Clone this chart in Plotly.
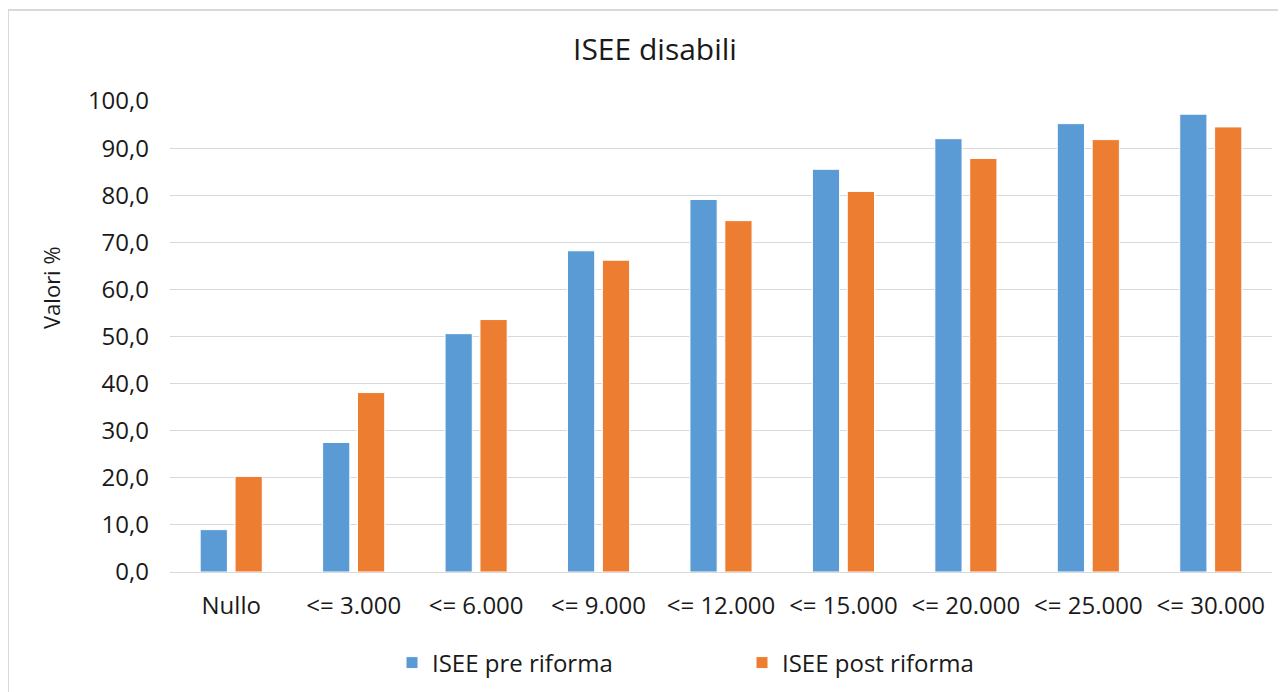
import plotly.graph_objects as go

categories = ["Nullo", "<= 3.000", "<= 6.000", "<= 9.000", "<= 12.000",
              "<= 15.000", "<= 20.000", "<= 25.000", "<= 30.000"]
pre_riforma = [9.0, 27.5, 50.6, 68.2, 79.1, 85.5, 92.0, 95.2, 97.2]
post_riforma = [20.3, 38.1, 53.6, 66.2, 74.6, 80.8, 87.8, 91.8, 94.5]
y_ticks = [0, 10, 20, 30, 40, 50, 60, 70, 80, 90, 100]
y_tick_labels = ["0,0", "10,0", "20,0", "30,0", "40,0", "50,0",
                 "60,0", "70,0", "80,0", "90,0", "100,0"]

# page offset (browser body margin) compensation
OFF = 8
W, H = 1286 - OFF, 692 - OFF
L, R, T = 170 - OFF, 1286 - 1272, 101 - OFF
B = H - (572 - OFF)
pw, ph = W - L - R, H - T - B

def px(x):
    return (x - OFF - L) / pw

def py(y):
    return (H - B - (y - OFF)) / ph

def cx(x):
    return (x - OFF) / W

def cy(y):
    return 1 - (y - OFF) / H

FONT = "Open Sans"
TXT = "#1a1a1a"

fig = go.Figure()
fig.add_trace(go.Bar(x=categories, y=pre_riforma, name="ISEE pre riforma",
                     marker=dict(color="#5B9BD5", line=dict(color="#FFFFFF", width=1))))
fig.add_trace(go.Bar(x=categories, y=post_riforma, name="ISEE post riforma",
                     marker=dict(color="#ED7D31", line=dict(color="#FFFFFF", width=1))))

fig.update_layout(
    width=W, height=H,
    margin=dict(l=L, r=R, t=T, b=B, autoexpand=False),
    paper_bgcolor="white", plot_bgcolor="white",
    font=dict(family=FONT, size=24, color=TXT),
    barmode="group", bargap=0.43, bargroupgap=0.22,
    showlegend=True,
    legend=dict(orientation="h", xref="container", yref="container",
                x=cx(392), xanchor="left", y=cy(663), yanchor="middle",
                font=dict(size=24, color=TXT), itemwidth=30,
                entrywidth=305, traceorder="normal"),
    xaxis=dict(showline=True, linecolor="#D9D9D9", linewidth=1, ticks="",
               tickfont=dict(size=24), showgrid=False, fixedrange=True,
               ticklabelstandoff=12, automargin=False),
    yaxis=dict(range=[0, 100], tickvals=y_ticks, ticktext=y_tick_labels,
               showgrid=True, gridcolor="#D9D9D9", gridwidth=1,
               zeroline=False, showline=False, ticks="", ticklabelstandoff=20,
               tickfont=dict(size=24), automargin=False),
    annotations=[
        dict(text="ISEE disabili", x=px(655), y=py(48), xref="paper", yref="paper",
             showarrow=False, font=dict(size=30, color=TXT),
             xanchor="center", yanchor="middle"),
        dict(text="Valori %", x=px(51), y=py(288), xref="paper", yref="paper",
             showarrow=False, textangle=-90, font=dict(size=22, color=TXT),
             xanchor="center", yanchor="middle"),
    ],
    shapes=[
        dict(type="line", xref="paper", yref="paper", x0=px(8), x1=px(8),
             y0=py(10), y1=py(700), line=dict(color="#D9D9D9", width=2)),
        dict(type="line", xref="paper", yref="paper", x0=px(8), x1=px(1300),
             y0=py(10), y1=py(10), line=dict(color="#D9D9D9", width=2)),
    ],
)

fig.write_html("out.html")
